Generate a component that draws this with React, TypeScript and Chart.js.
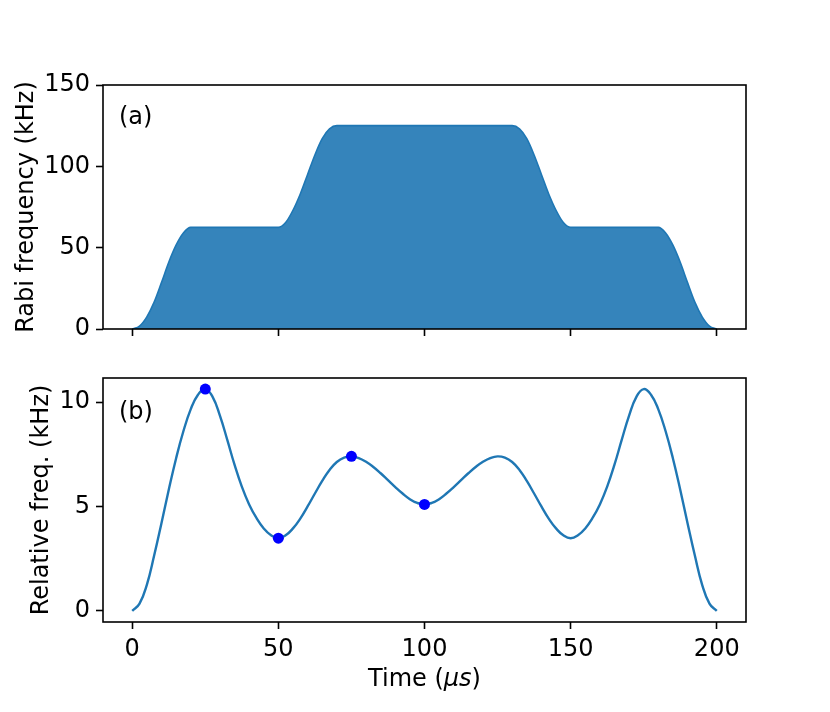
import React, { useEffect, useRef } from 'react';
import { Chart, registerables } from 'chart.js';

Chart.register(...registerables);

// ---- data ----
const timeUs = [
  0, 2.5, 5, 7.5, 10, 12.5, 15, 17.5, 20, 22.5, 25, 27.5, 30, 32.5, 35, 37.5, 40, 42.5, 45, 47.5,
  50, 52.5, 55, 57.5, 60, 62.5, 65, 67.5, 70, 72.5, 75, 77.5, 80, 82.5, 85, 87.5, 90, 92.5, 95, 97.5,
  100, 102.5, 105, 107.5, 110, 112.5, 115, 117.5, 120, 122.5, 125, 127.5, 130, 132.5, 135, 137.5, 140, 142.5, 145, 147.5,
  150, 152.5, 155, 157.5, 160, 162.5, 165, 167.5, 170, 172.5, 175, 177.5, 180, 182.5, 185, 187.5, 190, 192.5, 195, 197.5,
  200,
];

const rabiKHz = [
  0, 1.8, 7.5, 16.5, 28.5, 41, 51.5, 59, 62.5, 62.5, 62.5, 62.5, 62.5, 62.5, 62.5, 62.5, 62.5, 62.5, 62.5, 62.5,
  62.5, 65.5, 73, 83, 95, 107, 117, 123, 125, 125, 125, 125, 125, 125, 125, 125, 125, 125, 125, 125,
  125, 125, 125, 125, 125, 125, 125, 125, 125, 125, 125, 125, 125, 123, 117, 107, 95, 83, 73, 65.5,
  62.5, 62.5, 62.5, 62.5, 62.5, 62.5, 62.5, 62.5, 62.5, 62.5, 62.5, 62.5, 62.5, 59, 51.5, 41, 28.5, 16.5, 7.5, 1.8,
  0,
];

const relFreqKHz = [
  0, 0.35, 1.25, 2.65, 4.2, 5.8, 7.3, 8.6, 9.65, 10.35, 10.62,
  10.25, 9.35, 8.2, 7.0, 5.95, 5.1, 4.45, 3.95, 3.62, 3.48,
  3.62, 3.95, 4.42, 5.0, 5.62, 6.22, 6.75, 7.13, 7.34, 7.4,
  7.32, 7.14, 6.89, 6.59, 6.26, 5.93, 5.62, 5.35, 5.17, 5.1,
  5.17, 5.35, 5.62, 5.93, 6.26, 6.59, 6.89, 7.14, 7.32, 7.4,
  7.34, 7.13, 6.75, 6.22, 5.62, 5.0, 4.42, 3.95, 3.62, 3.48,
  3.62, 3.95, 4.45, 5.1, 5.95, 7.0, 8.2, 9.35, 10.25, 10.62,
  10.35, 9.65, 8.6, 7.3, 5.8, 4.2, 2.65, 1.25, 0.35, 0,
];

const markerTimeUs = [25, 50, 75, 100];
const markerFreqKHz = [10.62, 3.48, 7.4, 5.1];

const xTicks = [0, 50, 100, 150, 200];
const rabiTicks = [0, 50, 100, 150];
const relTicks = [0, 5, 10];

const rabiLabel = 'Rabi frequency (kHz)';
const relLabel = 'Relative freq. (kHz)';
const panelLabels = ['(a)', '(b)'];
const xLabelParts = ['Time (', 'μs', ')'];

// ---- styling ----
const FONT = '"DejaVu Sans", "Liberation Sans", sans-serif';
const FS = 24;
const BLUE = '#1f77b4';
const CANVAS_W = 830;
const CANVAS_H = 356;

const xMin = -10;
const xMax = 210;
const relMax = Math.max(...relFreqKHz);
const relMin = Math.min(...relFreqKHz);
const relPad = (relMax - relMin) * 0.05;

const toPts = (xs: number[], ys: number[]) => xs.map((x, i) => ({ x, y: ys[i] }));

function framePlugin(label: string, labelDy: number) {
  return {
    id: 'frame-' + label,
    afterDraw(chart: any) {
      const { ctx, chartArea } = chart;
      ctx.save();
      ctx.strokeStyle = '#000';
      ctx.lineWidth = 1.6;
      ctx.strokeRect(chartArea.left, chartArea.top, chartArea.right - chartArea.left, chartArea.bottom - chartArea.top);
      ctx.fillStyle = '#000';
      ctx.font = `${FS}px ${FONT}`;
      ctx.textBaseline = 'alphabetic';
      ctx.textAlign = 'left';
      ctx.fillText(label, chartArea.left + 16, chartArea.top + labelDy);
      ctx.restore();
    },
  };
}

const xTitlePlugin = {
  id: 'xtitle',
  afterDraw(chart: any) {
    const { ctx, chartArea } = chart;
    ctx.save();
    ctx.fillStyle = '#000';
    ctx.textBaseline = 'alphabetic';
    ctx.textAlign = 'left';
    const fonts = [`${FS}px ${FONT}`, `italic ${FS}px ${FONT}`, `${FS}px ${FONT}`];
    const widths = xLabelParts.map((p, i) => {
      ctx.font = fonts[i];
      return ctx.measureText(p).width;
    });
    const total = widths.reduce((a, b) => a + b, 0);
    let x = (chartArea.left + chartArea.right) / 2 - total / 2;
    const y = chartArea.bottom + 64;
    xLabelParts.forEach((p, i) => {
      ctx.font = fonts[i];
      ctx.fillText(p, x, y);
      x += widths[i];
    });
    ctx.restore();
  },
};

function xScale(showLabels: boolean, height: number) {
  return {
    type: 'linear',
    min: xMin,
    max: xMax,
    afterBuildTicks: (s: any) => {
      s.ticks = xTicks.map((v) => ({ value: v }));
    },
    afterFit: (s: any) => {
      s.height = height;
    },
    ticks: {
      display: showLabels,
      color: '#000',
      font: { family: FONT, size: FS },
      padding: 6,
      maxRotation: 0,
      autoSkip: false,
      callback: (v: any) => String(v),
    },
    grid: {
      display: true,
      drawOnChartArea: false,
      drawTicks: true,
      tickLength: 7,
      tickWidth: 1.6,
      tickColor: '#000',
    },
    border: { display: false },
  };
}

function yScale(min: number, max: number, ticks: number[], title: string, titlePad: number) {
  return {
    type: 'linear',
    min,
    max,
    afterBuildTicks: (s: any) => {
      s.ticks = ticks.map((v) => ({ value: v }));
    },
    afterFit: (s: any) => {
      s.width = 103;
    },
    ticks: {
      color: '#000',
      font: { family: FONT, size: FS },
      padding: 6,
      autoSkip: false,
      callback: (v: any) => String(v),
    },
    grid: {
      display: true,
      drawOnChartArea: false,
      drawTicks: true,
      tickLength: 7,
      tickWidth: 1.6,
      tickColor: '#000',
    },
    border: { display: false },
    title: {
      display: true,
      text: title,
      color: '#000',
      font: { family: FONT, size: FS },
      padding: { top: titlePad, bottom: 0 },
    },
  };
}

export default function App() {
  const topRef = useRef<HTMLCanvasElement>(null);
  const botRef = useRef<HTMLCanvasElement>(null);

  useEffect(() => {
    const common = {
      responsive: false,
      animation: false,
      devicePixelRatio: 1,
      events: [],
      plugins: { legend: { display: false }, tooltip: { enabled: false } },
    };

    const top = new Chart(topRef.current as HTMLCanvasElement, {
      type: 'line',
      data: {
        datasets: [
          {
            data: toPts(timeUs, rabiKHz),
            borderColor: BLUE,
            borderWidth: 1.6,
            backgroundColor: 'rgba(31,119,180,0.9)',
            fill: 'origin',
            pointRadius: 0,
            cubicInterpolationMode: 'monotone',
          },
        ],
      },
      options: {
        ...common,
        layout: { padding: { top: 85, right: 84, left: 0, bottom: 0 } },
        scales: {
          x: xScale(false, CANVAS_H - 329),
          y: yScale(0, 150, rabiTicks, rabiLabel, 12),
        },
      } as any,
      plugins: [framePlugin(panelLabels[0], 39)],
    } as any);

    const bot = new Chart(botRef.current as HTMLCanvasElement, {
      type: 'line',
      data: {
        datasets: [
          {
            data: toPts(markerTimeUs, markerFreqKHz),
            showLine: false,
            pointRadius: 5.5,
            pointBackgroundColor: '#0000ff',
            pointBorderColor: '#0000ff',
            pointBorderWidth: 0,
          },
          {
            data: toPts(timeUs, relFreqKHz),
            borderColor: BLUE,
            borderWidth: 2.4,
            fill: false,
            pointRadius: 0,
            tension: 0.45,
          },
        ],
      },
      options: {
        ...common,
        layout: { padding: { top: 378 - CANVAS_H, right: 84, left: 0, bottom: 0 } },
        scales: {
          x: xScale(true, CANVAS_H * 2 - 622),
          y: yScale(relMin - relPad, relMax + relPad, relTicks, relLabel, 27),
        },
      } as any,
      plugins: [framePlugin(panelLabels[1], 41), xTitlePlugin],
    } as any);

    return () => {
      top.destroy();
      bot.destroy();
    };
  }, []);

  return (
    <div style={{ position: 'absolute', left: 0, top: 0, width: CANVAS_W, height: CANVAS_H * 2, background: '#fff' }}>
      <canvas
        ref={topRef}
        width={CANVAS_W}
        height={CANVAS_H}
        style={{ position: 'absolute', left: 0, top: 0, width: CANVAS_W, height: CANVAS_H }}
      />
      <canvas
        ref={botRef}
        width={CANVAS_W}
        height={CANVAS_H}
        style={{ position: 'absolute', left: 0, top: CANVAS_H, width: CANVAS_W, height: CANVAS_H }}
      />
    </div>
  );
}
